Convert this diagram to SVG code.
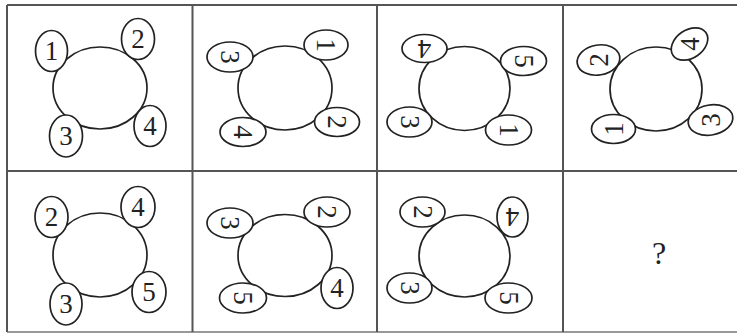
<svg xmlns="http://www.w3.org/2000/svg" width="737" height="335" viewBox="0 0 737 335">
<style>
.grid{stroke:#555;stroke-width:2;fill:none}
.big{fill:#fff;stroke:#222;stroke-width:1.7}
.sm{fill:#fff;stroke:#222;stroke-width:1.7}
.d{font-family:"Liberation Serif","Times New Roman",serif;font-size:27px;fill:#222;text-anchor:middle}
.q{font-family:"Liberation Serif","Times New Roman",serif;font-size:32px;fill:#222;text-anchor:middle}
</style>
<rect width="737" height="335" fill="#fff"/>
<g id="grid">
<line class="grid" x1="7" y1="5" x2="737" y2="5"/>
<line class="grid" x1="7" y1="171" x2="737" y2="171"/>
<line class="grid" x1="7" y1="332" x2="737" y2="332" style="stroke:#999"/>
<line class="grid" x1="7" y1="5" x2="7" y2="332"/>
<line class="grid" x1="192.5" y1="5" x2="192.5" y2="332"/>
<line class="grid" x1="377" y1="5" x2="377" y2="332"/>
<line class="grid" x1="563" y1="5" x2="563" y2="332"/>
</g>

<g id="r1p1">
<ellipse class="big" cx="100" cy="88" rx="47" ry="41"/>
<g id="r1p1-1" transform="translate(51.5,51)"><ellipse class="sm" rx="16" ry="20.5"/><text class="d" y="9">1</text></g>
<g id="r1p1-2" transform="translate(138,39)"><ellipse class="sm" rx="16.5" ry="20.5"/><text class="d" y="9">2</text></g>
<g id="r1p1-3" transform="translate(66,136)"><ellipse class="sm" rx="16.5" ry="21"/><text class="d" y="9">3</text></g>
<g id="r1p1-4" transform="translate(150,126)"><ellipse class="sm" rx="16" ry="20.5"/><text class="d" y="9">4</text></g>
</g>

<g id="r1p2">
<ellipse class="big" cx="285" cy="88" rx="47" ry="42"/>
<g id="r1p2-3" transform="translate(230,57)"><ellipse class="sm" rx="23" ry="15"/><text class="d" y="9" transform="rotate(90)">3</text></g>
<g id="r1p2-1" transform="translate(326,45)"><ellipse class="sm" rx="22" ry="15"/><text class="d" y="9" transform="rotate(90)">1</text></g>
<g id="r1p2-2" transform="translate(337,122)"><ellipse class="sm" rx="22.5" ry="14.5"/><text class="d" y="9" transform="rotate(90)">2</text></g>
<g id="r1p2-4" transform="translate(243,132)"><ellipse class="sm" rx="23" ry="14.5"/><text class="d" y="9" transform="rotate(90)">4</text></g>
</g>

<g id="r1p3">
<ellipse class="big" cx="464.5" cy="88.5" rx="45.5" ry="42"/>
<g id="r1p3-4" transform="translate(424.5,48.5)"><ellipse class="sm" rx="22.5" ry="14"/><text class="d" y="9" transform="rotate(180)">4</text></g>
<g id="r1p3-5" transform="translate(523.5,61)"><ellipse class="sm" rx="23" ry="14.5"/><text class="d" y="9" transform="rotate(90)">5</text></g>
<g id="r1p3-3" transform="translate(409.5,122)"><ellipse class="sm" rx="22.5" ry="15"/><text class="d" y="9" transform="rotate(90)">3</text></g>
<g id="r1p3-1" transform="translate(508.5,130)"><ellipse class="sm" rx="23" ry="15"/><text class="d" y="9" transform="rotate(90)">1</text></g>
</g>

<g id="r1p4">
<ellipse class="big" cx="656" cy="89" rx="46" ry="42"/>
<g id="r1p4-2" transform="translate(598.5,60) rotate(-10)"><ellipse class="sm" rx="21.5" ry="15"/><text class="d" y="9" transform="rotate(-80)">2</text></g>
<g id="r1p4-4" transform="translate(689.5,44) rotate(-35)"><ellipse class="sm" rx="20" ry="14"/><text class="d" y="9" transform="rotate(-55)">4</text></g>
<g id="r1p4-1" transform="translate(613.5,129)"><ellipse class="sm" rx="22" ry="14.5"/><text class="d" y="9" transform="rotate(-90)">1</text></g>
<g id="r1p4-3" transform="translate(710.5,120) rotate(-10)"><ellipse class="sm" rx="22.5" ry="15"/><text class="d" y="9" transform="rotate(-80)">3</text></g>
</g>

<g id="r2p1">
<ellipse class="big" cx="100" cy="255" rx="47" ry="42"/>
<g id="r2p1-2" transform="translate(51.5,217)"><ellipse class="sm" rx="16.5" ry="20.5"/><text class="d" y="9">2</text></g>
<g id="r2p1-4" transform="translate(138,207)"><ellipse class="sm" rx="17" ry="20.5"/><text class="d" y="9">4</text></g>
<g id="r2p1-3" transform="translate(66,304)"><ellipse class="sm" rx="16" ry="21"/><text class="d" y="9">3</text></g>
<g id="r2p1-5" transform="translate(149,292)"><ellipse class="sm" rx="17" ry="20.5"/><text class="d" y="9">5</text></g>
</g>

<g id="r2p2">
<ellipse class="big" cx="285" cy="255.5" rx="47" ry="41"/>
<g id="r2p2-3" transform="translate(230,223)"><ellipse class="sm" rx="23" ry="15"/><text class="d" y="9" transform="rotate(90)">3</text></g>
<g id="r2p2-2" transform="translate(327,212)"><ellipse class="sm" rx="23" ry="15"/><text class="d" y="9" transform="rotate(90)">2</text></g>
<g id="r2p2-4" transform="translate(337,288)"><ellipse class="sm" rx="16" ry="20.5"/><text class="d" y="9">4</text></g>
<g id="r2p2-5" transform="translate(243,298)"><ellipse class="sm" rx="23.5" ry="15"/><text class="d" y="9" transform="rotate(90)">5</text></g>
</g>

<g id="r2p3">
<ellipse class="big" cx="464.5" cy="256" rx="45.5" ry="41"/>
<g id="r2p3-2" transform="translate(422.5,212)"><ellipse class="sm" rx="22.5" ry="15"/><text class="d" y="9" transform="rotate(90)">2</text></g>
<g id="r2p3-4" transform="translate(512.5,217)"><ellipse class="sm" rx="15.5" ry="20"/><text class="d" y="9" transform="rotate(180)">4</text></g>
<g id="r2p3-3" transform="translate(409.5,288)"><ellipse class="sm" rx="22.5" ry="15"/><text class="d" y="9" transform="rotate(90)">3</text></g>
<g id="r2p3-5" transform="translate(508.5,298)"><ellipse class="sm" rx="23.5" ry="15"/><text class="d" y="9" transform="rotate(90)">5</text></g>
</g>

<g id="r2p4">
<text class="q" x="659" y="264">?</text>
</g>
</svg>
